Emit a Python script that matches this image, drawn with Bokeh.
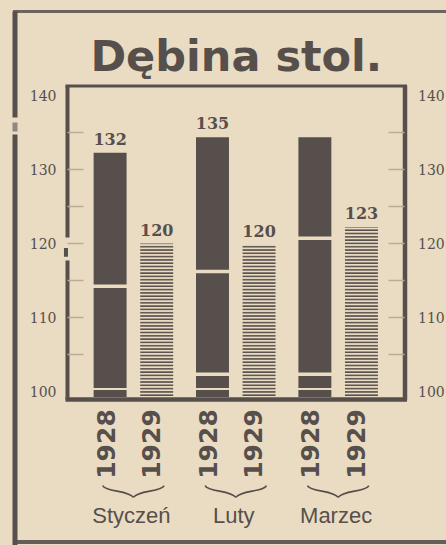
import numpy as np
from bokeh.plotting import figure
from bokeh.models import Range1d, LinearAxis, FixedTicker
from bokeh.core.properties import value
from bokeh.embed import file_html
from bokeh.resources import INLINE

# ---- data ----
months = ["Styczeń", "Luty", "Marzec"]
years = ["1928", "1929"]
values_1928 = [132.3, 134.4, 134.4]
values_1929 = [120.0, 119.8, 122.2]
labels_1928 = ["132", "135", ""]
labels_1929 = ["120", "120", "123"]
breaks_1928 = [[100.3, 114.2], [100.3, 102.3, 116.2], [100.3, 102.3, 120.7]]
y_tick_values = [100, 110, 120, 130, 140]
y_minor_ticks = [105, 110, 115, 120, 125, 130, 135]
base_value = 99.2

# ---- style ----
BG = "#eadcc2"
INK = "#574f4c"
TICK = "#bcab92"
OFF = 0.2275
BAR_W = 0.322

p = figure(width=446, height=545, output_backend="svg", toolbar_location=None,
           x_range=Range1d(-1.2981, 3.0582), y_range=Range1d(79.079, 152.927),
           x_axis_type=None, y_axis_type=None, min_border=0, title=None)
p.background_fill_color = BG
p.border_fill_color = BG
p.outline_line_color = None

gx = np.arange(len(months), dtype=float)
x28 = gx - OFF
x29 = gx + OFF

# 1928 solid bars
p.vbar(x=x28, top=values_1928, bottom=base_value, width=BAR_W,
       fill_color=INK, line_color=None)
# light breaks inside 1928 bars
bx, by, bh = [], [], []
for i, br in enumerate(breaks_1928):
    for b in br:
        bx.append(x28[i]); by.append(b); bh.append(2 if b < 101 else 3.5)
p.rect(x=bx, y=by, width=BAR_W + 0.04, height=bh, height_units="screen",
       fill_color=BG, line_color=None)

# 1929 hatched bars
p.vbar(x=x29, top=values_1929, bottom=base_value, width=BAR_W,
       fill_color=BG, line_color=None, hatch_pattern="horizontal_line",
       hatch_scale=3.3, hatch_weight=1.8, hatch_color=INK)

# value labels
p.text(x=list(x28) + list(x29), y=values_1928 + values_1929,
       text=labels_1928 + labels_1929, text_align="center", text_baseline="middle",
       y_offset=-14, text_font=value("DejaVu Serif"), text_font_style="bold",
       text_font_size="16px", text_color=INK)

# year labels (rotated)
yx = list(x28 - 0.045) + list(x29 - 0.055)
yt = [years[0]] * 3 + [years[1]] * 3
p.text(x=yx, y=92.83, text=yt, angle=np.pi / 2, text_align="center",
       text_baseline="middle", text_font=value("DejaVu Sans"), text_font_style="bold",
       text_font_size="25px", text_color=INK)

# braces
hw = 0.30
p.bezier(x0=list(gx - hw) + list(gx + hw), y0=87.2,
         x1=list(gx) + list(gx), y1=85.6,
         cx0=list(gx - hw + 0.03) + list(gx + hw - 0.03), cy0=86.3,
         cx1=list(gx - 0.05) + list(gx + 0.05), cy1=86.6,
         line_color=INK, line_width=1.6)

# month labels
p.text(x=gx - 0.02, y=83.14, text=months, text_align="center", text_baseline="middle",
       text_font=value("Liberation Sans"), text_font_size="22px", text_color=INK)

# title
p.text(x=[1.005], y=[145.34], text=["Dębina stol."], text_align="center",
       text_baseline="middle", text_font=value("DejaVu Sans"), text_font_style="bold",
       text_font_size="43px", text_color=INK)

# inner frame
XL, XR, YT, YB = -0.6437, 2.6528, 141.35, 98.86
p.segment(x0=[XL - 0.02], y0=[YT], x1=[XR + 0.02], y1=[YT], line_color=INK, line_width=3)
p.segment(x0=[XL - 0.02], y0=[YB], x1=[XR + 0.02], y1=[YB], line_color=INK, line_width=4.5)
p.segment(x0=[XL, XL - 0.015, XL], y0=[YT, 119.4, 117.7],
          x1=[XL, XL - 0.015, XL], y1=[120.8, 118.2, YB], line_color=INK, line_width=4)
p.segment(x0=[XR], y0=[YT], x1=[XR], y1=[YB], line_color=INK, line_width=4.5)

# outer frame
OXL, OYT, OYB = -1.1565, 151.43, 79.55
p.segment(x0=[OXL, OXL, OXL], y0=[OYT, 136.39, 134.77], x1=[OXL, OXL, OXL],
          y1=[137.07, 135.17, 79.079], line_color=INK, line_width=5,
          line_alpha=[1.0, 0.6, 1.0])
p.segment(x0=[OXL - 0.02], y0=[OYT], x1=[3.06], y1=[OYT], line_color=INK,
          line_width=3, line_alpha=0.85)
p.segment(x0=[OXL - 0.02], y0=[OYB], x1=[3.06], y1=[OYB], line_color=INK,
          line_width=4, line_alpha=0.9)

# axes
for side, loc, standoff in (("left", XL, 11), ("right", XR, 13)):
    ax = LinearAxis(fixed_location=loc, bounds=(100, 140),
                    ticker=FixedTicker(ticks=y_tick_values, minor_ticks=y_minor_ticks))
    ax.axis_line_color = None
    ax.major_tick_in = 0
    ax.major_tick_out = 0
    ax.minor_tick_in = 16
    ax.minor_tick_out = 0
    ax.minor_tick_line_color = TICK
    ax.minor_tick_line_width = 1.3
    ax.major_label_standoff = standoff
    ax.major_label_text_font = "DejaVu Serif"
    ax.major_label_text_font_size = "14px"
    ax.major_label_text_color = INK
    p.add_layout(ax, side)

template = """
{% block postamble %}
<style>html, body { margin: 0; padding: 0; overflow: hidden; background: #eadcc2; }</style>
{% endblock %}
"""
open("out.html", "w").write(file_html(p, INLINE, template=template))
